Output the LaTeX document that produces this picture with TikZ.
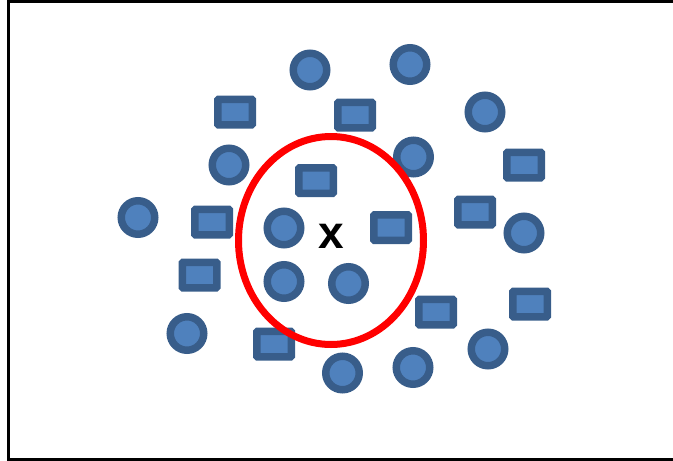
\documentclass[tikz,border=0pt]{standalone}
\usepackage{fontspec}
\setmainfont{Liberation Sans}
\usetikzlibrary{shapes.geometric}
\definecolor{dotfill}{HTML}{4F81BD}
\definecolor{dotline}{HTML}{385D8A}
\begin{document}
\begin{tikzpicture}[x=1pt,y=-1pt,
  dot/.style={circle,draw=dotline,fill=dotfill,line width=7.5pt,minimum size=33.5pt,inner sep=0pt},
  sq/.style={rectangle,draw=dotline,fill=dotfill,line width=7.5pt,minimum width=34.5pt,minimum height=25.5pt,inner sep=0pt,rounded corners=0.8pt},
  frameline/.style={line width=3pt,black}]
\useasboundingbox (0,0) rectangle (673,461);
\draw[frameline] (673,1.5) -- (8.5,1.5) -- (8.5,459.5) -- (673,459.5);
% circles
\node[dot] (c1) at (310,70) {};
\node[dot] (c2) at (410,64.5) {};
\node[dot] (c3) at (485,112) {};
\node[dot] (c4) at (229,165) {};
\node[dot] (c5) at (413.5,157) {};
\node[dot] (c6) at (138,217.5) {};
\node[dot] (c7) at (284,228) {};
\node[dot] (c8) at (524,233) {};
\node[dot] (c9) at (284,281.5) {};
\node[dot] (c10) at (348.5,283.5) {};
\node[dot] (c11) at (187,333.5) {};
\node[dot] (c12) at (488,349) {};
\node[dot] (c13) at (342.5,373) {};
\node[dot] (c14) at (413,367.5) {};
% squares
\node[sq] (s1) at (235,112) {};
\node[sq] (s2) at (355,115) {};
\node[sq] (s3) at (524,165) {};
\node[sq] (s4) at (316,180.5) {};
\node[sq] (s5) at (212,222) {};
\node[sq] (s6) at (391,227.5) {};
\node[sq] (s7) at (475,212) {};
\node[sq] (s8) at (199.5,275) {};
\node[sq] (s9) at (436,312) {};
\node[sq] (s10) at (530,304) {};
\node[sq] (s11) at (274,344) {};
% red ellipse
\node[draw=red,line width=7pt,ellipse,minimum width=185pt,minimum height=208pt,inner sep=0pt] (ring) at (331,240.5) {};
% query point
\node[inner sep=0pt,font=\bfseries\fontsize{46}{50}\selectfont] (q) at (331,236) {x};
\end{tikzpicture}
\end{document}
